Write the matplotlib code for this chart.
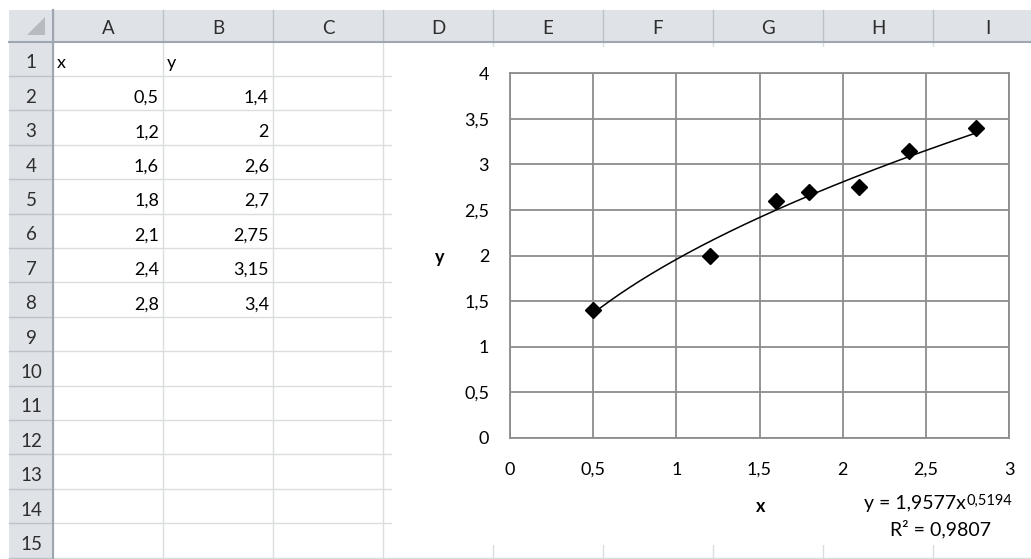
import matplotlib.pyplot as plt
import matplotlib.patches as mpatches
import numpy as np
from matplotlib.ticker import FuncFormatter, MultipleLocator

plt.rcParams['font.family'] = ['Lato', 'DejaVu Sans']
plt.rcParams['font.size'] = 13

# data from the sheet
x = [0.5, 1.2, 1.6, 1.8, 2.1, 2.4, 2.8]
y = [1.4, 2, 2.6, 2.7, 2.75, 3.15, 3.4]
col_names = ['A', 'B', 'C', 'D', 'E', 'F', 'G', 'H', 'I']
n_rows = 15
eq_text = 'y = 1,9577x'
eq_power = '0,5194'
r2_text = 'R² = 0,9807'

W, H = 1031, 559
row_top, row_h = 41.5, 34.4
col_left, col_w = 53, 110


def fmt(v):
    return '{:g}'.format(v).replace('.', ',')


fig = plt.figure(figsize=(W / 100, H / 100), dpi=100)

# sheet background drawn in pixel coordinates
bg = fig.add_axes([0, 0, 1, 1])
bg.set_xlim(0, W)
bg.set_ylim(H, 0)
bg.axis('off')

head_col = '#dfe3e8'
bg.add_patch(mpatches.Rectangle((9, 10), W, 32, color=head_col, lw=0))
bg.add_patch(mpatches.Rectangle((9, 42), 44, H, color=head_col, lw=0))

col_edges = [col_left + col_w * k for k in range(len(col_names) + 1)]
row_edges = [row_top + row_h * k for k in range(n_rows + 1)]

for cx in col_edges:
    bg.plot([cx, cx], [10, 42], color='#bcc2c9', lw=1)
    bg.plot([cx, cx], [42, H], color='#dadcdd', lw=1)
for ry in row_edges[1:]:
    bg.plot([9, 53], [ry, ry], color='#bcc2c9', lw=1)
    bg.plot([53, W], [ry, ry], color='#dadcdd', lw=1)
bg.plot([9, W], [42, 42], color='#9ea7b1', lw=1.5)
bg.plot([53, 53], [10, H], color='#9ea7b1', lw=1.5)
bg.add_patch(mpatches.Polygon([(45, 17), (45, 35), (27, 35)], color='#b6bbc1', lw=0))

txt_col = '#000000'
for k, name in enumerate(col_names):
    bg.text(col_left + col_w * k + col_w / 2, 33.5, name, ha='center', va='baseline',
            color='#2e2e2e', fontsize=13.5)
for i in range(n_rows):
    bg.text(31, row_edges[i + 1] - 7.5, str(i + 1), ha='center', va='baseline',
            color='#2e2e2e', fontsize=13.5)

# cell contents
bg.text(col_left + 4, row_edges[1] - 7.5, 'x', va='baseline', color=txt_col)
bg.text(col_left + col_w + 4, row_edges[1] - 7.5, 'y', va='baseline', color=txt_col)
for i, (xv, yv) in enumerate(zip(x, y)):
    base = row_edges[i + 2] - 7.5
    bg.text(col_left + col_w - 4, base, fmt(xv), ha='right', va='baseline', color=txt_col)
    bg.text(col_left + 2 * col_w - 4, base, fmt(yv), ha='right', va='baseline', color=txt_col)

# chart area
bg.add_patch(mpatches.Rectangle((392, 47), W - 392, 545 - 47, color='white', lw=0, zorder=5))

# plot area
l, r, t, b = 510, 1009, 73, 438
ax = fig.add_axes([l / W, 1 - b / H, (r - l) / W, (b - t) / H])
ax.set_xlim(0, 3)
ax.set_ylim(0, 4)
ax.xaxis.set_major_locator(MultipleLocator(0.5))
ax.yaxis.set_major_locator(MultipleLocator(0.5))
ax.xaxis.set_major_formatter(FuncFormatter(lambda v, p: fmt(v)))
ax.yaxis.set_major_formatter(FuncFormatter(lambda v, p: fmt(v)))
ax.tick_params(axis='both', length=0, labelsize=13, labelcolor=txt_col)
ax.tick_params(axis='y', pad=15)
ax.tick_params(axis='x', pad=17)
ax.grid(True, color='#8c8c8c', lw=1.3)
for s in ax.spines.values():
    s.set_color('#8c8c8c')
    s.set_linewidth(1.3)

# power trendline fitted in log space
b_exp, ln_a = np.polyfit(np.log(x), np.log(y), 1)
xs = np.linspace(min(x), max(x), 200)
ax.plot(xs, np.exp(ln_a) * xs ** b_exp, color='black', lw=1.1)
ax.plot(x, y, 'D', color='black', ms=8.5, zorder=4)

fig.text(761 / W, 1 - 507 / H, 'x', ha='center', va='center', fontweight='bold', color=txt_col)
fig.text(440 / W, 1 - 258 / H, 'y', ha='center', va='center', fontweight='bold', color=txt_col)

# equation with a raised exponent, placed after measuring the main text
t1 = fig.text(864 / W, 1 - 509 / H, eq_text, ha='left', va='baseline', color=txt_col,
              fontsize=14)
fig.canvas.draw()
bb = t1.get_window_extent()
fig.text((bb.x1 + 1) / W, (bb.y1 + 1) / H, eq_power, ha='left', va='top', fontsize=10.5,
         color=txt_col)
fig.text(941 / W, 1 - 535 / H, r2_text, ha='center', va='baseline', color=txt_col,
         fontsize=14)

fig.savefig('out.png', dpi=100)
